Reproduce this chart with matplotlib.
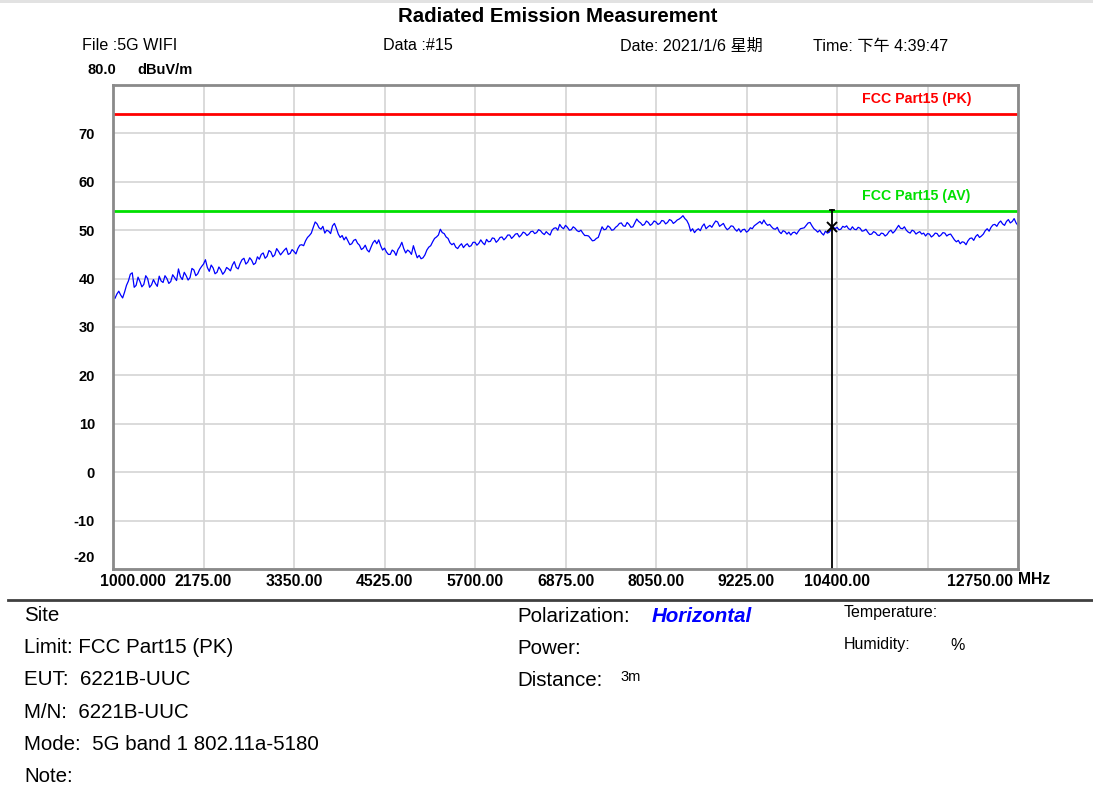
import numpy as np
import matplotlib
matplotlib.use('Agg')
import matplotlib.pyplot as plt
from matplotlib.transforms import ScaledTranslation

plt.rcParams['font.family'] = ['Liberation Sans', 'Noto Sans CJK SC', 'DejaVu Sans']

# sweep 1000 .. 12750 MHz, one reading every 25 MHz
freq = np.arange(1000, 12751, 25)
level = [
    36.3, 35.9, 36.8, 37.4, 36.6, 36.0, 37.2, 38.6, 39.5, 40.9, 41.2, 38.2, 38.6, 40.3, 39.4, 38.3, 38.8, 40.6, 40.0, 38.2,
    38.7, 39.8, 39.0, 38.4, 40.5, 39.5, 39.2, 40.6, 40.0, 39.0, 39.4, 40.8, 40.2, 39.6, 42.0, 40.4, 39.8, 41.3, 40.6, 39.7,
    40.2, 42.1, 41.8, 40.6, 41.0, 41.9, 42.5, 43.0, 43.9, 42.3, 41.5, 42.8, 42.2, 41.0, 41.3, 42.4, 41.8, 40.9, 41.4, 42.3,
    42.0, 41.6, 42.8, 43.5, 42.3, 42.0, 43.1, 43.9, 44.2, 43.0, 43.4, 44.3, 43.8, 42.9, 43.2, 44.5, 44.0, 45.0, 45.3, 44.2,
    44.6, 45.8, 45.5, 44.5, 44.9, 46.2, 45.6, 44.9, 45.4, 45.9, 46.3, 45.0, 45.2, 46.0, 45.6, 45.1, 46.2, 46.9, 47.0, 46.8,
    47.8, 48.5, 48.9, 49.4, 50.6, 51.7, 51.3, 50.5, 50.2, 50.8, 49.4, 50.0, 49.8, 49.3, 50.9, 51.4, 50.4, 49.2, 48.5, 48.9,
    48.0, 48.6, 47.8, 47.0, 47.2, 47.9, 48.1, 47.3, 46.9, 46.0, 46.3, 46.9, 45.9, 45.5, 46.5, 47.4, 47.9, 47.2, 48.0, 46.8,
    45.9, 46.3, 45.5, 45.0, 45.0, 45.9, 45.6, 44.8, 46.0, 46.6, 47.5, 46.2, 45.3, 45.9, 45.6, 45.0, 46.8, 45.5, 44.3, 44.8,
    44.1, 44.3, 44.9, 45.9, 46.5, 46.8, 47.6, 48.3, 48.6, 49.0, 50.2, 49.5, 49.3, 48.6, 48.3, 47.4, 47.0, 47.3, 46.5, 46.2,
    46.8, 47.2, 46.4, 46.9, 47.2, 46.6, 46.8, 47.5, 47.5, 46.9, 47.3, 48.0, 47.4, 47.0, 48.1, 47.6, 47.7, 48.4, 48.3, 47.5,
    47.9, 48.5, 48.6, 48.0, 48.4, 49.0, 49.0, 48.3, 48.7, 49.2, 49.3, 48.6, 49.0, 49.6, 49.4, 48.9, 49.2, 49.7, 49.8, 49.3,
    49.5, 50.1, 49.9, 49.4, 49.1, 49.7, 49.3, 49.0, 50.0, 50.4, 50.5, 50.0, 51.2, 50.6, 50.3, 51.0, 50.6, 50.0, 50.1, 50.7,
    50.4, 49.9, 49.7, 50.0, 49.4, 48.9, 48.9, 48.8, 48.3, 47.8, 47.9, 48.3, 48.5, 49.6, 50.7, 50.1, 50.2, 50.9, 50.6, 50.0,
    50.1, 50.6, 50.9, 51.4, 51.5, 50.9, 50.8, 51.6, 51.2, 50.6, 50.7, 51.5, 52.3, 51.8, 51.5, 51.0, 51.2, 51.9, 51.6, 51.0,
    51.3, 51.9, 51.7, 51.2, 51.4, 52.0, 51.9, 51.3, 51.6, 52.2, 52.0, 51.4, 51.7, 52.1, 52.3, 52.6, 53.0, 52.4, 52.0, 51.2,
    49.8, 50.3, 49.5, 50.0, 50.3, 49.9, 50.8, 51.3, 50.3, 50.7, 51.0, 50.6, 51.3, 51.9, 51.7, 50.8, 51.1, 51.4, 50.6, 50.1,
    50.4, 50.9, 50.8, 50.2, 49.8, 50.3, 49.6, 50.1, 50.2, 49.6, 49.9, 50.5, 50.3, 50.9, 51.2, 51.5, 51.8, 51.3, 52.1, 51.4,
    51.0, 51.2, 50.7, 50.3, 50.2, 50.6, 49.7, 49.3, 49.9, 49.7, 49.2, 49.6, 49.0, 49.5, 49.6, 49.2, 49.8, 50.3, 50.4, 50.5,
    51.0, 51.5, 51.6, 50.9, 50.3, 50.0, 49.6, 50.0, 49.4, 49.0, 49.8, 49.4, 49.6, 50.2, 50.7, 50.3, 50.6, 50.1, 50.2, 50.8,
    50.6, 50.9, 50.3, 50.1, 50.7, 50.2, 50.1, 50.6, 50.4, 49.8, 49.9, 50.2, 49.6, 49.1, 49.2, 49.7, 49.5, 49.0, 48.9, 49.4,
    49.3, 48.8, 49.1, 49.7, 50.0, 49.4, 49.8, 50.4, 51.0, 50.4, 50.3, 50.7, 50.0, 49.6, 49.4, 50.0, 49.8, 49.2, 49.5, 49.7,
    49.2, 49.4, 48.8, 49.3, 49.2, 48.6, 48.9, 49.4, 49.3, 48.7, 49.0, 49.5, 49.4, 48.8, 49.1, 49.2, 48.6, 48.0, 47.6, 47.9,
    47.2, 47.6, 47.5, 47.0, 47.8, 48.3, 48.4, 47.9, 48.7, 49.1, 48.5, 48.8, 49.2, 49.9, 50.3, 49.8, 50.6, 51.1, 51.2, 50.8,
    51.5, 51.9, 51.3, 51.0, 51.8, 52.2, 51.5, 51.8, 52.4, 51.5, 51.0,
]

limit_pk = 74.0
limit_av = 54.0
marker_freq = 10340
marker_level = 50.7

x_ticks = [1000, 2175, 3350, 4525, 5700, 6875, 8050, 9225, 10400, 11575, 12750]
x_labels = ['1000.000', '2175.00', '3350.00', '4525.00', '5700.00', '6875.00',
            '8050.00', '9225.00', '10400.00', '', '12750.00']
y_ticks = [-20, -10, 0, 10, 20, 30, 40, 50, 60, 70]

W, H = 1093, 785


def px(x, y):
    return x / W, 1 - y / H


fig = plt.figure(figsize=(W / 100, H / 100), dpi=100)
ax = fig.add_axes([113 / W, 1 - 569 / H, (1018 - 113) / W, (569 - 85) / H])

ax.set_xlim(1000, 12750)
ax.set_ylim(-20, 80)
ax.set_xticks(x_ticks, x_labels)
ax.set_yticks(y_ticks, [str(v) for v in y_ticks])
ax.tick_params(length=0)
ax.tick_params(axis='x', labelsize=11.3, pad=3.5)
ax.tick_params(axis='y', labelsize=10.5, pad=13)
for lab in ax.get_xticklabels() + ax.get_yticklabels():
    lab.set_fontweight('bold')
ax.grid(True, color='#d4d4d4', lw=1.2)
ax.set_axisbelow(True)
for s in ax.spines.values():
    s.set_color('#8a8a8a')
    s.set_linewidth(2)

# nudge first/last x labels and the bottom y label like the original
xl = ax.get_xticklabels()
xl[0].set_transform(xl[0].get_transform() + ScaledTranslation(0.195, 0, fig.dpi_scale_trans))
xl[-1].set_transform(xl[-1].get_transform() + ScaledTranslation(-0.38, 0, fig.dpi_scale_trans))
yl = ax.get_yticklabels()
yl[0].set_transform(yl[0].get_transform() + ScaledTranslation(0, 0.13, fig.dpi_scale_trans))

ax.axhline(limit_pk, color='#ff0000', lw=2)
ax.axhline(limit_av, color='#00e000', lw=2)
lx = (862 - 113) / (1018 - 113)
ax.text(lx, limit_pk + 1.6, 'FCC Part15 (PK)', transform=ax.get_yaxis_transform(),
        color='#ff0000', fontsize=10.2, fontweight='bold', ha='left', va='bottom')
ax.text(lx, limit_av + 1.6, 'FCC Part15 (AV)', transform=ax.get_yaxis_transform(),
        color='#00e000', fontsize=10.2, fontweight='bold', ha='left', va='bottom')

ax.plot(freq, level, color='#0000ff', lw=0.9)

# marker
ax.plot([marker_freq, marker_freq], [-20, 54.2], color='black', lw=1.3)
ax.plot([marker_freq - 25, marker_freq + 25], [54.2, 54.2], color='black', lw=1.3)
ax.plot(marker_freq, marker_level, marker='x', color='black', ms=7, mew=1.4)

# header
fig.text(*px(558, 16), 'Radiated Emission Measurement', ha='center', va='center',
         fontsize=14.7, fontweight='bold')
fig.text(*px(82, 46), 'File :5G WIFI', ha='left', va='center', fontsize=11.6)
fig.text(*px(383, 46), 'Data :#15', ha='left', va='center', fontsize=11.6)
fig.text(*px(620, 46), 'Date: 2021/1/6 星期', ha='left', va='center', fontsize=11.6)
fig.text(*px(813, 46), 'Time: 下午 4:39:47', ha='left', va='center', fontsize=11.6)
fig.text(*px(88, 70), '80.0', ha='left', va='center', fontsize=10.5, fontweight='bold')
fig.text(*px(137, 70), 'dBuV/m', ha='left', va='center', fontsize=10.5, fontweight='bold')
fig.text(*px(1018, 580), 'MHz', ha='left', va='center', fontsize=11.3, fontweight='bold')

# top strip and separator
fig.add_artist(plt.Rectangle((0, 1 - 3 / H), 1, 3 / H, transform=fig.transFigure,
                             color='#e2e2e2', lw=0))
fig.add_artist(plt.Line2D([8 / W, 1], [1 - 600 / H] * 2, transform=fig.transFigure,
                          color='#404040', lw=2))

# info block
info_left = ['Site', 'Limit: FCC Part15 (PK)', 'EUT:  6221B-UUC', 'M/N:  6221B-UUC',
             'Mode:  5G band 1 802.11a-5180', 'Note:']
for i, t in enumerate(info_left):
    fig.text(*px(24, 615.5 + i * 32.2), t, ha='left', va='center', fontsize=14.8)

fig.text(*px(517, 616), 'Polarization:', ha='left', va='center', fontsize=14.8)
fig.text(*px(652, 616), 'Horizontal', ha='left', va='center', fontsize=14.8,
         fontweight='bold', fontstyle='italic', color='#0000ff')
fig.text(*px(517, 648), 'Power:', ha='left', va='center', fontsize=14.8)
fig.text(*px(517, 680), 'Distance:', ha='left', va='center', fontsize=14.8)
fig.text(*px(620, 677), '3m', ha='left', va='center', fontsize=10.5)
fig.text(*px(844, 612), 'Temperature:', ha='left', va='center', fontsize=11.5)
fig.text(*px(844, 645), 'Humidity:', ha='left', va='center', fontsize=11.5)
fig.text(*px(950, 645), '%', ha='left', va='center', fontsize=11.5)

fig.savefig('out.png', dpi=100)
